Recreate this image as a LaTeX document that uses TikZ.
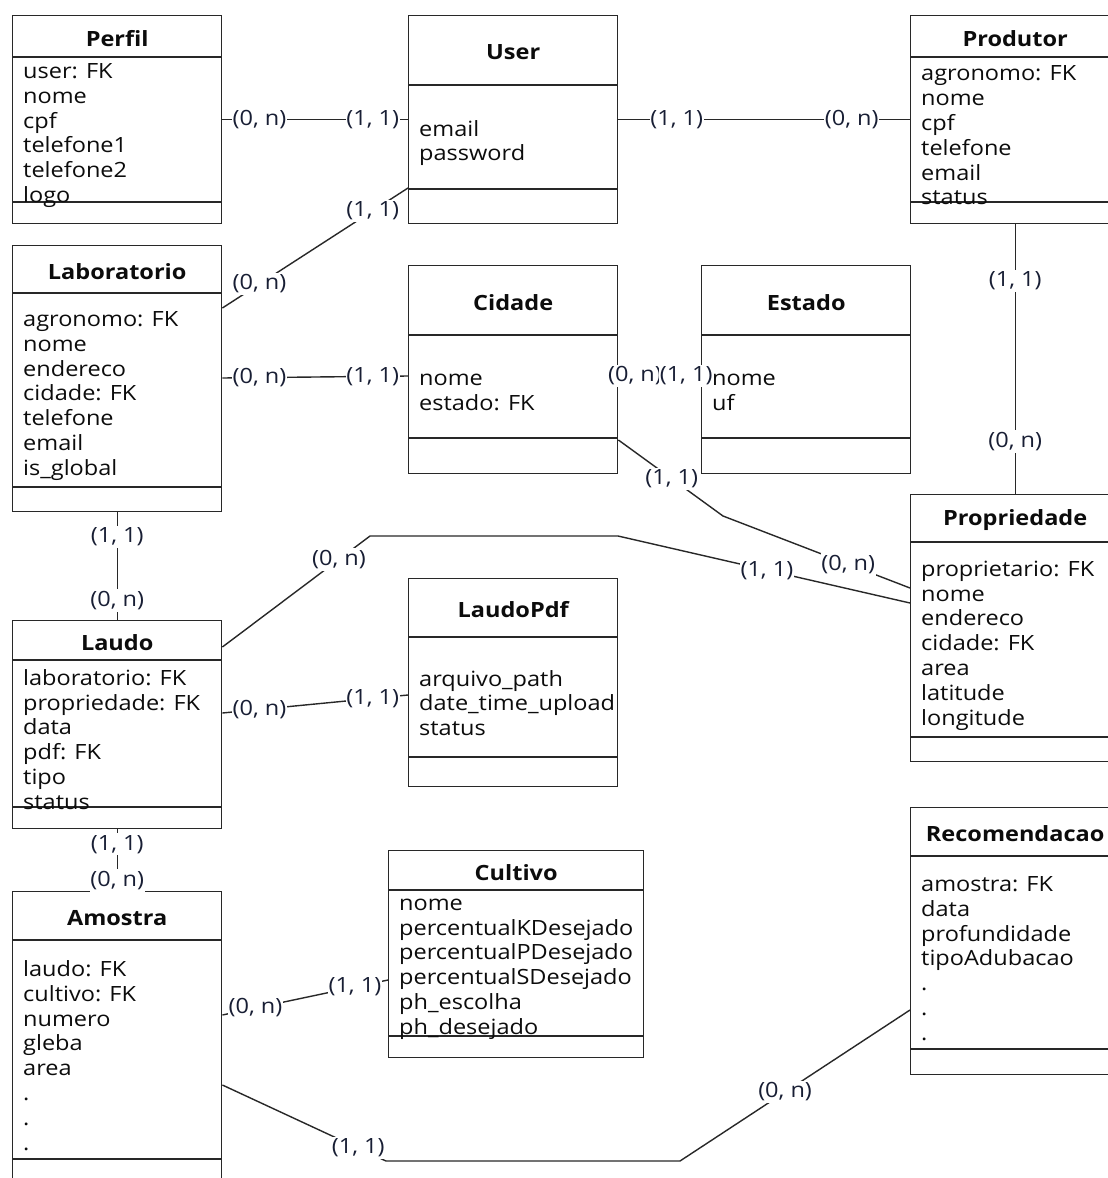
\documentclass[tikz,border=0pt]{standalone}
\usepackage{fontspec}
\setmainfont{Open Sans}[FakeStretch=1.12]
\usetikzlibrary{calc}
\definecolor{lbl}{RGB}{24,30,52}
\definecolor{ink}{RGB}{12,12,12}
\definecolor{edge}{RGB}{40,40,40}
\newcommand\txtfont{\fontsize{21}{24.8}\selectfont}
\tikzset{
  ebox/.style={draw=edge, line width=1.4pt, fill=white, inner sep=0pt, anchor=north west},
  eline/.style={draw=edge, line width=1.4pt},
  etitle/.style={inner sep=0pt, text=ink, font=\txtfont\bfseries},
  eattr/.style={inner sep=0pt, text=ink, font=\txtfont, align=left, anchor=west},
  conn/.style={draw=edge, line width=1.4pt},
  card/.style={fill=white, text=lbl, inner xsep=0.6pt, inner ysep=2pt, font=\txtfont},
}
% name, x1, y1, x2, y2, header line y, compartment line y, title, attributes
\newcommand\ent[9]{%
  \node[ebox, minimum width={(#4-#2)*1pt}, minimum height={(#5-#3)*1pt}] (#1) at (#2,#3) {};
  \draw[eline] ($(#1.north west)+(0,{#6-#3})$) -- ($(#1.north east)+(0,{#6-#3})$);
  \draw[eline] ($(#1.north west)+(0,{#7-#3})$) -- ($(#1.north east)+(0,{#7-#3})$);
  \node[etitle] (#1-t) at ($(#1.north)+(0,{(#6-#3)/2+2.5})$) {#8};
  \node[eattr] (#1-a) at ($(#1.north west)+(11,{(#6+#7)/2-#3+6})$) {#9};
}
\begin{document}
\begin{tikzpicture}[x=1pt,y=-1pt]
\useasboundingbox (0,0) rectangle (1108,1178);
\clip (0,0) rectangle (1108,1178);
\fill[white] (0,0) rectangle (1108,1178);

\ent{perfil}{12}{15}{221}{223}{57}{202}{Perfil}{user: FK\\nome\\cpf\\telefone1\\telefone2\\logo}
\ent{user}{408}{15}{617}{223}{85}{189}{User}{email\\password}
\ent{produtor}{910}{15}{1119}{223}{57}{202}{Produtor}{agronomo: FK\\nome\\cpf\\telefone\\email\\status}
\ent{lab}{12}{245}{221}{511}{293}{487}{Laboratorio}{agronomo: FK\\nome\\endereco\\cidade: FK\\telefone\\email\\is\_global}
\ent{cidade}{408}{265}{617}{473}{335}{438}{Cidade}{nome\\estado: FK}
\ent{estado}{701}{265}{910}{473}{335}{438}{Estado}{nome\\uf}
\ent{prop}{910}{494}{1119}{761}{542}{737}{Propriedade}{proprietario: FK\\nome\\endereco\\cidade: FK\\area\\latitude\\longitude}
\ent{laudo}{12}{620}{221}{828}{660}{807}{Laudo}{laboratorio: FK\\propriedade: FK\\data\\pdf: FK\\tipo\\status}
\ent{laudopdf}{408}{578}{617}{786}{637}{757}{LaudoPdf}{arquivo\_path\\date\_time\_upload\\status}
\ent{amostra}{12}{891}{221}{1182}{940}{1159}{Amostra}{laudo: FK\\cultivo: FK\\numero\\gleba\\area\\.\\.\\.}
\ent{cultivo}{388}{850}{643}{1057}{890}{1036}{Cultivo}{nome\\percentualKDesejado\\percentualPDesejado\\percentualSDesejado\\ph\_escolha\\ph\_desejado}
\ent{reco}{910}{807}{1119}{1074}{856}{1049}{Recomendacao}{amostra: FK\\data\\profundidade\\tipoAdubacao\\.\\.\\.}

\coordinate (cp) at (723,516);
\coordinate (lp1) at (370,536);
\coordinate (lp2) at (618,536);
\coordinate (ar1) at (386,1161);
\coordinate (ar2) at (680,1161);

\draw[conn] (perfil) -- node[card,pos=.2]{(0, n)} node[card,pos=.81]{(1, 1)} (user);
\draw[conn] (user) -- node[card,pos=.2]{(1, 1)} node[card,pos=.8]{(0, n)} (produtor);
\draw[conn] ($(user.north west)+(0,173)$) -- node[card,pos=.19]{(1, 1)} node[card,pos=.8]{(0, n)} ($(lab.north east)+(0,63)$);
\draw[conn] ($(lab.north east)+(0,133)$) -- node[card,pos=.2]{(0, n)} node[card,pos=.81]{(1, 1)} ($(cidade.north west)+(0,111)$);
\draw[conn] ($(cidade.north east)+(0,111)$) -- node[card,pos=.2]{(0, n)} node[card,pos=.82]{(1, 1)} ($(estado.north west)+(0,111)$);
\draw[conn] ($(cidade.north east)+(0,175)$) -- node[card,pos=.51]{(1, 1)} (cp) -- node[card,pos=.67]{(0, n)} ($(prop.north west)+(0,94)$);
\draw[conn] (produtor) -- node[card,pos=.21]{(1, 1)} node[card,pos=.805]{(0, n)} (prop);
\draw[conn] (lab) -- node[card,pos=.23]{(1, 1)} node[card,pos=.82]{(0, n)} (laudo);
\draw[conn] ($(laudo.north east)+(0,27)$) -- node[card,pos=.79]{(0, n)} (lp1) -- (lp2) -- node[card,pos=.51]{(1, 1)} ($(prop.north west)+(0,109)$);
\draw[conn] ($(laudo.north east)+(0,93)$) -- node[card,pos=.2]{(0, n)} node[card,pos=.81]{(1, 1)} ($(laudopdf.north west)+(0,117)$);
\draw[conn] (laudo) -- node[card,pos=.24]{(1, 1)} node[card,pos=.83]{(0, n)} (amostra);
\draw[conn] ($(amostra.north east)+(0,124)$) -- node[card,pos=.2]{(0, n)} node[card,pos=.8]{(1, 1)} ($(cultivo.north west)+(0,130)$);
\draw[conn] ($(amostra.north east)+(0,194)$) -- node[card,pos=.83]{(1, 1)} (ar1) -- (ar2) -- node[card,pos=.457]{(0, n)} ($(reco.north west)+(0,203)$);
\end{tikzpicture}
\end{document}
